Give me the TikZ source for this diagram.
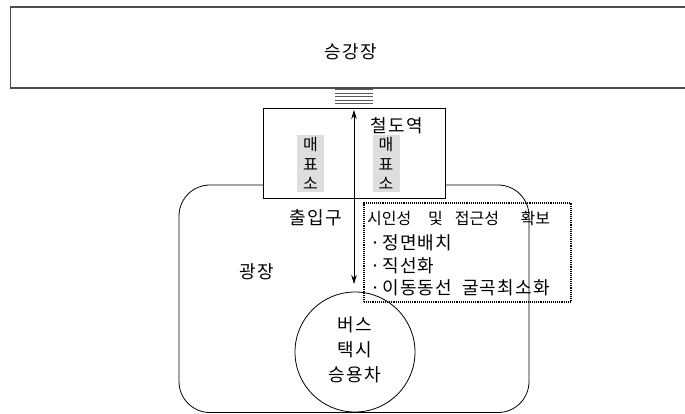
\documentclass[tikz,border=0pt]{standalone}
\usepackage{fontspec}
\newfontfamily\kr{Noto Sans CJK KR}
\newfontfamily\krw[LetterSpace=7]{Noto Sans CJK KR}
\usetikzlibrary{arrows.meta}
\tikzset{
  lbl/.style={font=\krw\fontsize{18}{21}\selectfont, inner sep=0pt},
  lblnarrow/.style={font=\kr\fontsize{16}{19}\selectfont, inner sep=0pt},
  box/.style={draw, line width=0.8pt, inner sep=0pt},
  ticket/.style={fill=black!13, minimum width=27pt, minimum height=57pt, inner sep=0pt, align=center, font=\kr\fontsize{16}{19.5}\selectfont},
  stair/.style={draw=black!65, line width=1pt},
  twoarrow/.style={line width=0.8pt, {Stealth[length=9pt,width=5.5pt]}-{Stealth[length=9pt,width=5.5pt]}},
}
\begin{document}
\begin{tikzpicture}[x=1pt,y=-1pt]
\useasboundingbox (0,0) rectangle (685,414);
% platform
\draw[draw=black!70, line width=1.1pt] (690,7) -- (10.5,7) -- (10.5,88) -- (690,88);
\node[lbl] (platform) at (351,52) {승강장};
% stairs
\foreach \yy in {90,93.5,97,100.5,104}
  \draw[stair] (335,\yy) -- (373,\yy);
% plaza
\draw[line width=0.8pt, rounded corners=31pt] (179,185) rectangle (529,412.5);
\node[lbl] (plaza) at (257,272) {광장};
% station
\node[box, fill=white, minimum width=182pt, minimum height=90pt] (station) at (354,153) {};
\node[lbl] (stn) at (397,126) {철도역};
\node[ticket] (tk1) at (310.5,163.5) {매\\표\\소};
\node[ticket] (tk2) at (386,163.5) {매\\표\\소};
\node[lbl] (entry) at (316,218) {출입구};
% arrow
\coordinate (atop) at (354,110);
\coordinate (abot) at (354,284);
\draw[twoarrow] (atop) -- (abot);
% visibility box
\node[draw, densely dotted, line width=1.1pt, minimum width=207pt, minimum height=99pt, inner sep=0pt] (vis) at (467.5,252.5) {};
\node[lblnarrow, anchor=west] (v1) at (367,218) {시인성\hspace{1.05em}및\hspace{0.75em}접근성\hspace{1.35em}확보};
\node[lbl, anchor=west] (v2) at (370,242.5) {\makebox[12pt][l]{·}정면배치};
\node[lbl, anchor=west] (v3) at (370,265.5) {\makebox[12pt][l]{·}직선화};
\node[lbl, anchor=west] (v4) at (370,287.5) {\makebox[12pt][l]{·}이동동선\hspace{0.55em}굴곡최소화};
% vehicles
\node[draw, circle, line width=0.8pt, minimum size=120pt, inner sep=0pt] (veh) at (355,352) {};
\node[lbl] (bus) at (355,325) {버스};
\node[lbl] (taxi) at (355,350) {택시};
\node[lbl] (car) at (355,375) {승용차};
\end{tikzpicture}
\end{document}
